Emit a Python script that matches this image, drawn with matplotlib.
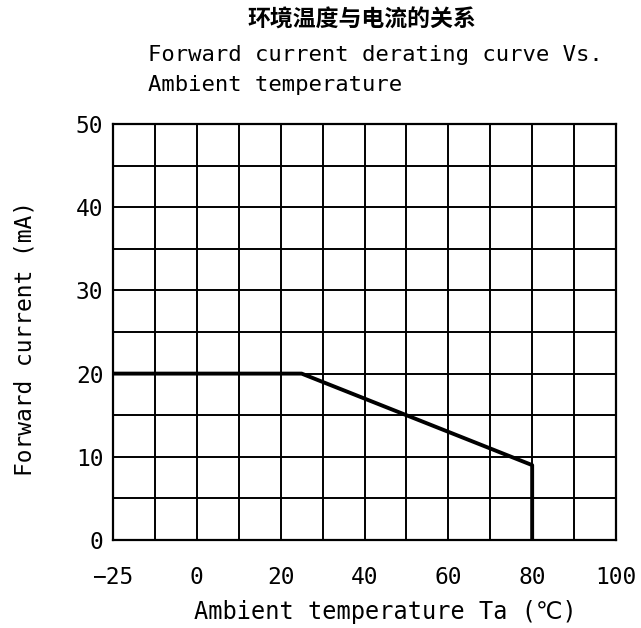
import matplotlib.pyplot as plt

# derating curve
temp = [-20, 25, 80, 80]
current = [20, 20, 9, 0]

x_ticks = [-20, 0, 20, 40, 60, 80, 100]
x_labels = ['\u221225', '0', '20', '40', '60', '80', '100']
y_ticks = [0, 10, 20, 30, 40, 50]

plt.rcParams['font.family'] = ['DejaVu Sans Mono', 'DejaVu Sans', 'Noto Sans CJK SC']

fig = plt.figure(figsize=(6.41, 6.28), dpi=100)
ax = fig.add_axes([113 / 641, 88 / 628, 503 / 641, 416 / 628])

ax.plot(temp, current, color='black', lw=2.8, solid_capstyle='butt', zorder=3)

ax.set_xlim(-20, 100)
ax.set_ylim(0, 50)
ax.set_xticks(range(-20, 101, 10), minor=True)
ax.set_yticks(range(0, 51, 5), minor=True)
ax.set_xticks(x_ticks)
ax.set_xticklabels(x_labels)
ax.set_yticks(y_ticks)
ax.grid(True, which='both', color='black', lw=1.4)
ax.tick_params(which='both', length=0, labelsize=16.5)
ax.tick_params(axis='x', pad=19)
ax.tick_params(axis='y', pad=7)
for s in ax.spines.values():
    s.set_linewidth(1.6)

ax.set_xlabel('Ambient temperature Ta (\u2103)', fontsize=17)
ax.xaxis.set_label_coords(385 / 641, 1 - 612 / 628, transform=fig.transFigure)
ax.set_ylabel('Forward current (mA)', fontsize=16.5)
ax.yaxis.set_label_coords(25 / 641, 1 - 338 / 628, transform=fig.transFigure)
ax.xaxis.label.set_va('center')
ax.yaxis.label.set_va('center')

fig.text(362 / 641, 1 - 20 / 628, '环境温度与电流的关系', ha='center', va='center',
         fontsize=16.5, family=['Noto Sans CJK SC', 'DejaVu Sans'], weight='bold')
fig.text(148 / 641, 1 - 55 / 628, 'Forward current derating curve Vs.',
         ha='left', va='center', fontsize=16)
fig.text(148 / 641, 1 - 85 / 628, 'Ambient temperature',
         ha='left', va='center', fontsize=16)

fig.savefig('out.png', dpi=100)
